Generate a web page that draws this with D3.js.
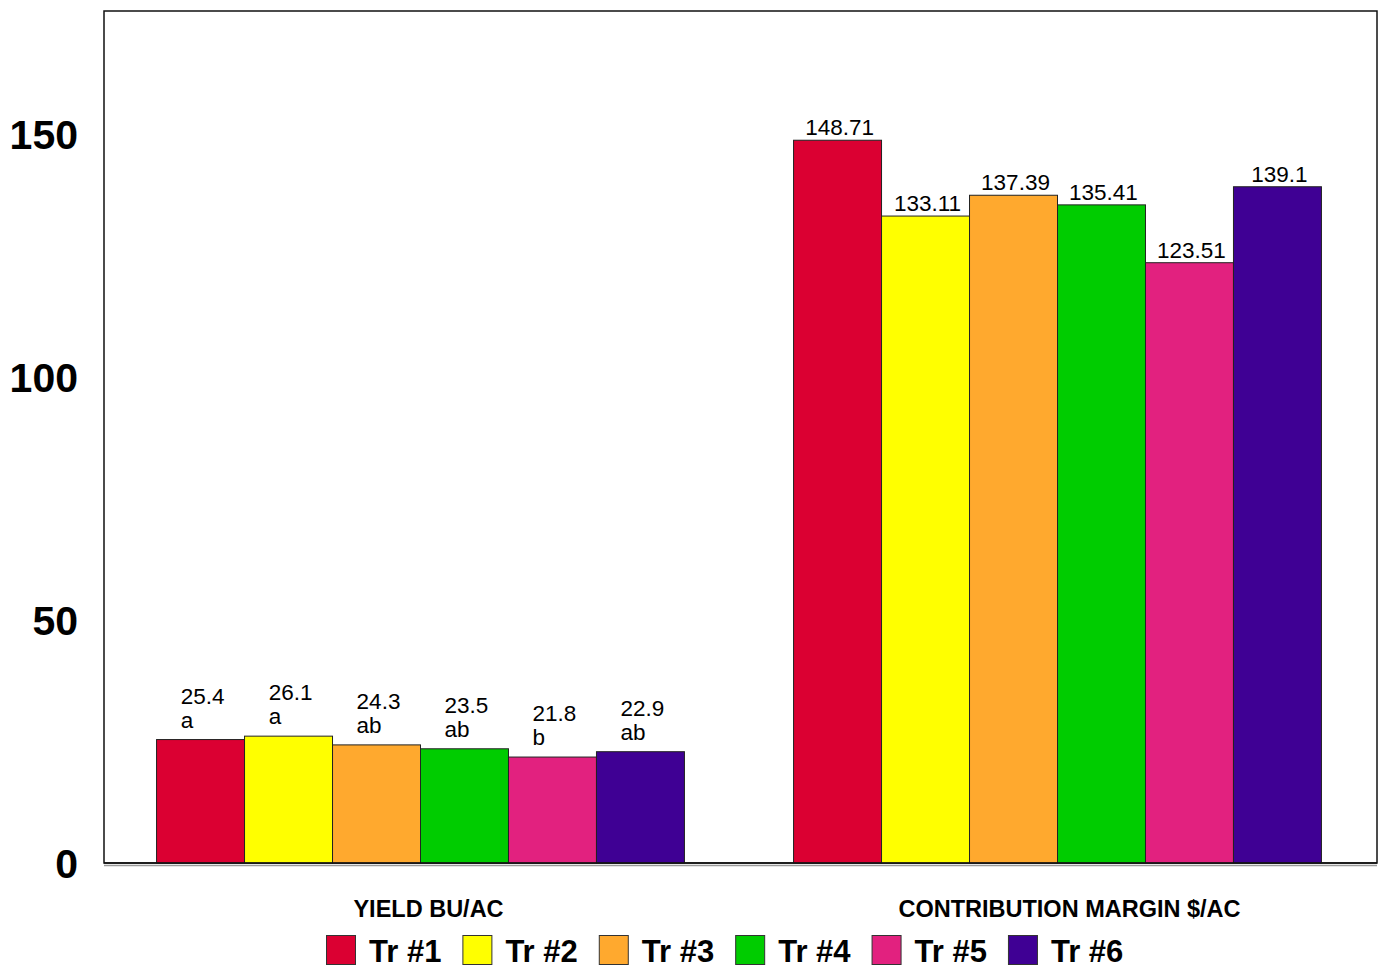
<!DOCTYPE html>
<html>
<head>
<meta charset="utf-8">
<script src="https://cdn.jsdelivr.net/npm/d3@7"></script>
<style>
  html, body { margin: 0; padding: 0; background: #ffffff; }
  svg { display: block; font-family: "Liberation Sans", Arial, sans-serif; }
</style>
</head>
<body>
<svg id="chart" width="1380" height="968"></svg>
<script>
// ---- data ----
const categories = ["YIELD BU/AC", "CONTRIBUTION MARGIN $/AC"];
const seriesNames = ["Tr #1", "Tr #2", "Tr #3", "Tr #4", "Tr #5", "Tr #6"];
const seriesColors = ["#DB0032", "#FFFF00", "#FFA92E", "#00CC00", "#E2217F", "#3F0094"];
const yieldValues = [25.4, 26.1, 24.3, 23.5, 21.8, 22.9];
const yieldLetters = ["a", "a", "ab", "ab", "b", "ab"];
const marginValues = [148.71, 133.11, 137.39, 135.41, 123.51, 139.14];
const marginLabels = ["148.71", "133.11", "137.39", "135.41", "123.51", "139.1"];
const yTicks = [0, 50, 100, 150];

// ---- layout ----
const svg = d3.select("#chart");
const plot = { left: 104, right: 1377, top: 11, bottom: 863 };

const y = d3.scaleLinear().domain([0, 175.3]).range([plot.bottom, plot.top]);
const x0 = d3.scaleBand().domain(categories).range([plot.left - 2, plot.right - 1]).padding(0);
const x1 = d3.scaleBand().domain(seriesNames).range([0, x0.bandwidth()])
  .paddingInner(0).paddingOuter(0.62);

const rows = [];
categories.forEach((c, ci) => {
  seriesNames.forEach((s, si) => {
    rows.push({
      cat: c, ci, s, si,
      v: ci === 0 ? yieldValues[si] : marginValues[si],
      label: ci === 0 ? String(yieldValues[si]) : marginLabels[si],
      letter: ci === 0 ? yieldLetters[si] : null
    });
  });
});

// frame
svg.append("line")
  .attr("x1", plot.left).attr("x2", plot.right)
  .attr("y1", plot.bottom + 2.5).attr("y2", plot.bottom + 2.5)
  .attr("stroke", "#9a9a9a").attr("stroke-width", 1.5);
svg.append("rect")
  .attr("x", plot.left).attr("y", plot.top)
  .attr("width", plot.right - plot.left).attr("height", plot.bottom - plot.top)
  .attr("fill", "none").attr("stroke", "#111").attr("stroke-width", 1.5);

// bars
const barG = svg.append("g");
barG.selectAll("rect").data(rows).join("rect")
  .attr("x", d => x0(d.cat) + x1(d.s))
  .attr("y", d => y(d.v))
  .attr("width", x1.bandwidth())
  .attr("height", d => y(0) - y(d.v))
  .attr("fill", d => seriesColors[d.si])
  .attr("stroke", "#222").attr("stroke-width", 1);

// baseline
svg.append("line")
  .attr("x1", plot.left).attr("x2", plot.right)
  .attr("y1", y(0)).attr("y2", y(0))
  .attr("stroke", "#111").attr("stroke-width", 1.5);

// value labels
const labG = svg.append("g").attr("font-size", 22.5).attr("fill", "#000");
rows.forEach(d => {
  const cx = x0(d.cat) + x1(d.s) + x1.bandwidth() / 2 + 2;
  const top = y(d.v);
  if (d.letter) {
    const t = labG.append("text")
      .attr("x", cx).attr("y", top - 36)
      .attr("text-anchor", "middle").text(d.label);
    const w = t.node().getComputedTextLength();
    labG.append("text")
      .attr("x", cx - w / 2).attr("y", top - 12)
      .text(d.letter);
  } else {
    labG.append("text")
      .attr("x", cx).attr("y", top - 5)
      .attr("text-anchor", "middle").text(d.label);
  }
});

// y tick labels
svg.append("g").selectAll("text").data(yTicks).join("text")
  .attr("x", 78).attr("y", d => y(d))
  .attr("dy", "0.36em")
  .attr("text-anchor", "end")
  .attr("font-size", 41).attr("font-weight", "bold")
  .text(d => d);

// category labels
svg.append("g").selectAll("text").data(categories).join("text")
  .attr("x", (d, i) => x0(d) + x0.bandwidth() / 2 + (i === 0 ? 8 : 12))
  .attr("y", 917)
  .attr("text-anchor", "middle")
  .attr("font-size", 23.5).attr("font-weight", "bold")
  .text(d => d);

// legend
const leg = svg.append("g");
let lx = 326;
seriesNames.forEach((s, i) => {
  leg.append("rect")
    .attr("x", lx + 0.5).attr("y", 935.5)
    .attr("width", 29).attr("height", 29)
    .attr("fill", seriesColors[i]).attr("stroke", "#333").attr("stroke-width", 1);
  const t = leg.append("text")
    .attr("x", lx + 43).attr("y", 962)
    .attr("font-size", 31).attr("font-weight", "bold")
    .text(s);
  const w = t.node().getComputedTextLength();
  lx += 43 + w + 21;
});
</script>
</body>
</html>
